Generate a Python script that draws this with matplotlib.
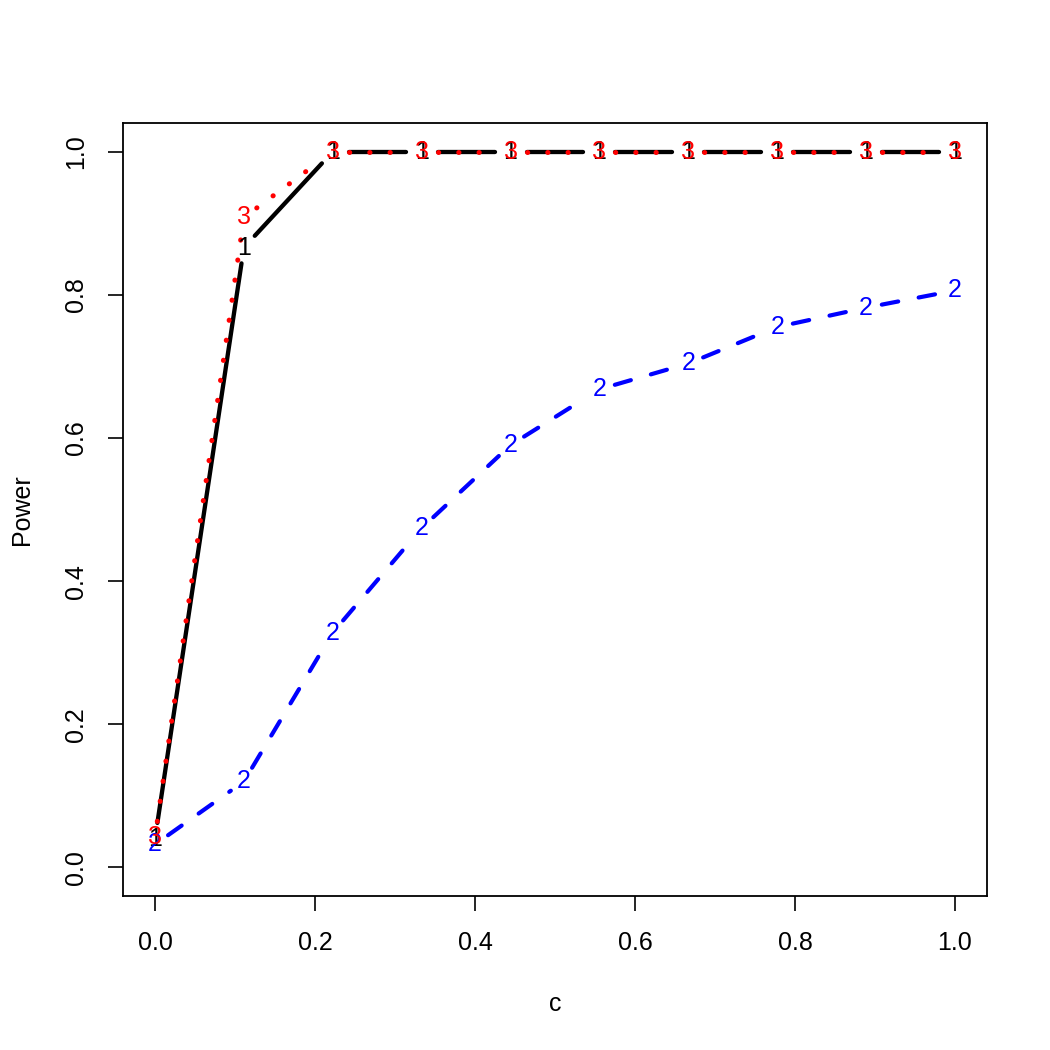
import numpy as np
import matplotlib
matplotlib.use("Agg")
import matplotlib.pyplot as plt

plt.rcParams['font.family'] = ['Liberation Sans', 'DejaVu Sans']

c_vals = [0.0, 0.1111, 0.2222, 0.3333, 0.4444, 0.5556, 0.6667, 0.7778, 0.8889, 1.0]
power1 = [0.04, 0.866, 1.0, 1.0, 1.0, 1.0, 1.0, 1.0, 1.0, 1.0]
power2 = [0.032, 0.12, 0.328, 0.474, 0.59, 0.668, 0.704, 0.755, 0.782, 0.806]
power3 = [0.042, 0.908, 1.0, 1.0, 1.0, 1.0, 1.0, 1.0, 1.0, 1.0]
labels = ["1", "2", "3"]
xticks = [0.0, 0.2, 0.4, 0.6, 0.8, 1.0]
yticks = [0.0, 0.2, 0.4, 0.6, 0.8, 1.0]

fig = plt.figure(figsize=(10.5, 10.5), dpi=100)
ax = fig.add_axes([123/1050, 1-896/1050, (987-123)/1050, (896-123)/1050])
ax.set_xlim(-0.04, 1.04)
ax.set_ylim(-0.04, 1.04)

series = [
    (power1, labels[0], "black", dict(linestyle="-", lw=3.1, solid_capstyle="round")),
    (power2, labels[1], "#0000FF", dict(linestyle=(0, (4, 5)), lw=3.0, dash_capstyle="round")),
    (power3, labels[2], "#FF0000", dict(linestyle=(0, (0.05, 4.0)), lw=3.6, dash_capstyle="round")),
]

fig.canvas.draw()
trans = ax.transData
inv = trans.inverted()
gap = 16.0  # pixels

for yv, lab, col, style in series:
    pts = trans.transform(np.column_stack([c_vals, yv]))
    for i in range(len(pts) - 1):
        p0, p1 = pts[i], pts[i + 1]
        d = p1 - p0
        L = np.hypot(*d)
        if L <= 2 * gap:
            continue
        u = d / L
        a = p0 + u * gap
        b = p1 - u * gap
        seg = inv.transform(np.array([a, b]))
        ax.plot(seg[:, 0], seg[:, 1], color=col, **style)
    for xv, yy in zip(c_vals, yv):
        ax.text(xv, yy, lab, color=col, fontsize=18, ha="center", va="center")

ax.set_xticks(xticks)
ax.set_yticks(yticks)
ax.set_xticklabels([f"{t:.1f}" for t in xticks])
ax.set_yticklabels([f"{t:.1f}" for t in yticks], rotation=90, va="center")
ax.tick_params(axis="both", length=11, width=1.2, labelsize=18, pad=14)
for s in ax.spines.values():
    s.set_linewidth(1.3)
ax.set_xlabel("c", fontsize=18, labelpad=27)
ax.set_ylabel("Power", fontsize=18, labelpad=22)

fig.savefig("out.png", dpi=100)
